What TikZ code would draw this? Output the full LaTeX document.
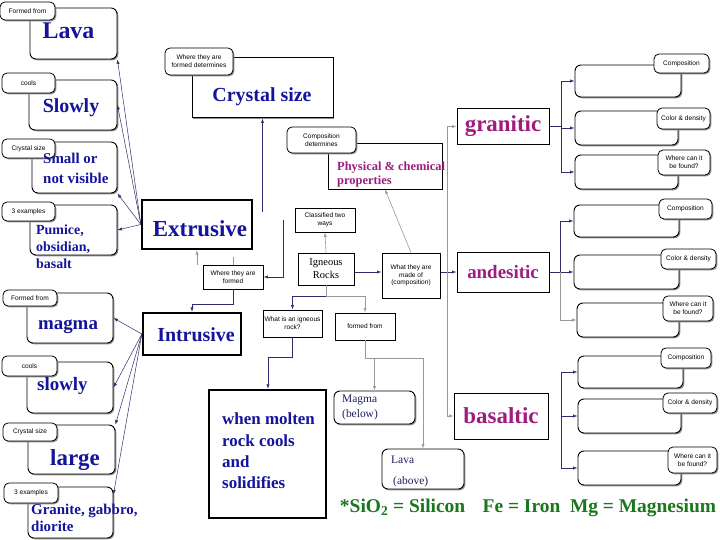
\documentclass[tikz,border=0pt]{standalone}
\usepackage{fontspec}
\setmainfont{Liberation Serif}
\newfontfamily\tagfont{Liberation Sans}
\usetikzlibrary{arrows.meta,shadows}

\definecolor{blueT}{RGB}{20,20,155}
\definecolor{purpleT}{RGB}{158,28,128}
\definecolor{greenT}{RGB}{28,118,28}
\definecolor{navyT}{RGB}{30,30,95}
\definecolor{linec}{RGB}{45,45,110}

\tikzset{
  dims/.style 2 args={minimum width=#1bp, minimum height=#2bp},
  shadowed/.style={drop shadow={shadow xshift=1.3pt, shadow yshift=-1.3pt, fill=black!45, opacity=1}},
  rbox/.style={draw, line width=0.9pt, rounded corners=6pt, fill=white, inner sep=0pt, shadowed},
  sbox/.style={draw, line width=1pt, fill=white, inner sep=0pt, shadowed},
  thickbox/.style={draw, line width=2.3pt, fill=white, inner sep=0pt},
  tag/.style={rbox, line width=0.8pt, rounded corners=5pt, font=\tagfont\fontsize{6.6}{7.8}\selectfont, align=center},
  minitxt/.style={font=\tagfont\fontsize{6.6}{7.8}\selectfont, align=center},
  bluetxt/.style={anchor=base, inner sep=0pt, text=blueT, font=\bfseries\fontsize{#1}{#1}\selectfont},
  purpletxt/.style={text=purpleT, font=\bfseries\fontsize{#1}{#1}\selectfont},
  conn/.style={draw=linec, line width=0.6pt},
  gconn/.style={draw=black!40, line width=0.6pt},
}

\begin{document}
\begin{tikzpicture}[x=1bp, y=-1bp, >={Latex[length=4.5pt,width=3.2pt]}]
  \fill[white] (0,0) rectangle (720,540);
  \useasboundingbox (0,0) rectangle (720,540);

  % left column: extrusive side
  \node[rbox, dims={87}{51}] (lava) at (73.5,33.5) {};
  \node[rbox, dims={88}{50}] (slowlyA) at (73,105) {};
  \node[rbox, dims={85}{51}] (small) at (74.5,167.5) {};
  \node[rbox, dims={87}{50}] (pumice) at (73.5,230) {};
  % left column: intrusive side
  \node[rbox, dims={86}{50}] (magma) at (70,318) {};
  \node[rbox, dims={86}{51}] (slowlyB) at (70,387.5) {};
  \node[rbox, dims={87}{49}] (large) at (71.5,449.5) {};
  \node[rbox, dims={85}{51}] (granite) at (70.5,512.5) {};

  \node[tag, dims={55}{18}] (tlava) at (27.5,11) {Formed from};
  \node[tag, dims={53}{20}] (tslowlyA) at (28.5,83) {cools};
  \node[tag, dims={53}{19}] (tsmall) at (28.5,148.5) {Crystal size};
  \node[tag, dims={53}{19}] (tpumice) at (28.5,211.5) {3 examples};
  \node[tag, dims={54}{16}] (tmagma) at (30,298) {Formed from};
  \node[tag, dims={55}{20}] (tslowlyB) at (29.5,366) {cools};
  \node[tag, dims={54}{18}] (tlarge) at (30,432) {Crystal size};
  \node[tag, dims={54}{20}] (tgranite) at (31,493) {3 examples};

  \node[bluetxt=24] (lavatxt) at (68.5,39) {Lava};
  \node[bluetxt=20] (slowlyAtxt) at (71,113) {Slowly};
  \node[anchor=west, inner sep=0pt, align=left, text=blueT, font=\bfseries\fontsize{15}{20}\selectfont] (smalltxt) at (43,168) {Small or\\not visible};
  \node[anchor=west, inner sep=0pt, align=left, text=blueT, font=\bfseries\fontsize{14}{17}\selectfont] (pumicetxt) at (36,247) {Pumice,\\obsidian,\\basalt};
  \node[bluetxt=19] (magmatxt) at (68,329) {magma};
  \node[bluetxt=19, anchor=base west] (slowlyBtxt) at (37,390) {slowly};
  \node[bluetxt=23] (largetxt) at (75,465) {large};
  \node[anchor=west, inner sep=0pt, align=left, text=blueT, font=\bfseries\fontsize{15}{17.5}\selectfont] (granitetxt) at (31,518) {Granite, gabbro,\\diorite};

  % centre
  \node[sbox, dims={141}{60}] (crystal) at (262.5,88) {};
  \node[bluetxt=20] (crystaltxt) at (262,102) {Crystal size};
  \node[tag, dims={68}{27}] (tcrystal) at (199,61.5) {Where they are\\formed determines};
  \node[thickbox, dims={110}{49}] (extrusive) at (197,224.5) {};
  \node[bluetxt=23] (extrusivetxt) at (200,237) {Extrusive};
  \node[thickbox, dims={98}{42}] (intrusive) at (192,334) {};
  \node[bluetxt=20] (intrusivetxt) at (196,341) {Intrusive};
  \node[sbox, dims={60}{24}, minitxt] (where) at (233,277) {Where they are\\formed};
  \node[sbox, dims={60}{24}, minitxt] (classified) at (325,220) {Classified two\\ways};
  \node[sbox, dims={56}{32}, align=center, font=\fontsize{10.5}{13}\selectfont] (igneous) at (326,269) {Igneous\\Rocks};
  \node[sbox, dims={58}{45}, minitxt] (made) at (411,275.5) {What they are\\made of\\(composition)};
  \node[sbox, dims={114}{45}] (physical) at (385,166.5) {};
  \node[tag, dims={69}{26}] (tphysical) at (321.5,140) {Composition\\determines};
  \node[anchor=west, inner sep=0pt, align=left, text=purpleT, font=\bfseries\fontsize{12.5}{15}\selectfont] (physicaltxt) at (337,174.5) {Physical \& chemical\\properties};
  \node[sbox, dims={59}{27}, minitxt] (whatis) at (292.5,323.5) {What is an igneous\\rock?};
  \node[sbox, dims={60}{27}, minitxt] (formedfrom) at (365,326.5) {formed from};
  \node[thickbox, dims={117}{128}] (molten) at (267.5,454) {};
  \node[anchor=west, inner sep=0pt, align=left, text=blueT, font=\bfseries\fontsize{17}{21.5}\selectfont] (moltentxt) at (222,451) {when molten\\rock cools\\and\\solidifies};
  \node[rbox, dims={81}{33}] (magmabelow) at (374.5,407.5) {};
  \node[anchor=west, inner sep=0pt, align=left, text=navyT, font=\fontsize{11.5}{15}\selectfont] (magmabelowtxt) at (342,407.5) {Magma\\(below)};
  \node[rbox, dims={82}{40}] (lavaabove) at (423,469) {};
  \node[anchor=west, inner sep=0pt, align=left, text=navyT, font=\fontsize{11.5}{21}\selectfont] (lavaabovetxt) at (391,471.5) {Lava\\\hspace{2bp}(above)};

  % composition classes
  \node[sbox, dims={92}{35}, purpletxt=23] (granitic) at (503,126.5) {granitic};
  \node[sbox, dims={92}{40}, purpletxt=19] (andesitic) at (503,272) {andesitic};
  \node[sbox, dims={94}{46}, purpletxt=23] (basaltic) at (501,416) {basaltic};

  % right column
  \node[rbox, dims={106}{32}] (g1) at (628,81) {};
  \node[rbox, dims={103}{34}] (g2) at (626.5,128) {};
  \node[rbox, dims={103}{34}] (g3) at (626.5,172) {};
  \node[rbox, dims={105}{32}] (a1) at (626.5,221) {};
  \node[rbox, dims={105}{34}] (a2) at (626.5,272) {};
  \node[rbox, dims={102}{34}] (a3) at (628,320) {};
  \node[rbox, dims={105}{32}] (b1) at (630.5,372) {};
  \node[rbox, dims={103}{34}] (b2) at (629.5,416) {};
  \node[rbox, dims={103}{34}] (b3) at (629.5,468) {};
  \node[tag, dims={55}{19}] (tg1) at (681.5,63.5) {Composition};
  \node[tag, dims={53}{21}] (tg2) at (683.5,118.5) {Color \& density};
  \node[tag, dims={52}{25}] (tg3) at (684,162.5) {Where can it\\be found?};
  \node[tag, dims={53}{20}] (ta1) at (685.5,209) {Composition};
  \node[tag, dims={55}{20}] (ta2) at (688.5,259) {Color \& density};
  \node[tag, dims={50}{25}] (ta3) at (688,308.5) {Where can it\\be found?};
  \node[tag, dims={50}{20}] (tb1) at (686,358) {Composition};
  \node[tag, dims={54}{20}] (tb2) at (690,403) {Color \& density};
  \node[tag, dims={49}{26}] (tb3) at (692.5,460) {Where can it\\be found?};

  \node[text=greenT, font=\bfseries\fontsize{19.5}{20}\selectfont] (elements) at (528,508)
    {*SiO\textsubscript{2} = Silicon\hspace{0.9em}Fe = Iron\hspace{0.5em}Mg = Magnesium};

  % connectors
  \foreach \b in {lava.south east, slowlyA.east, small.south east, pumice.east}
    \draw[conn, line width=0.5pt, ->] (extrusive.west) -- (\b);
  \draw[conn, line width=0.5pt, ->] (intrusive.west) -- (magma.east);
  \draw[conn, line width=0.5pt, ->] (intrusive.west) -- (slowlyB.east);
  \draw[conn, line width=0.5pt, ->] (intrusive.west) -- (large.north east);
  \draw[conn, line width=0.5pt, ->] (intrusive.west) -- ([yshift=-8bp]granite.north east);

  \coordinate (cs) at (262.5,212);
  \coordinate (wq) at (283,220);
  \draw[conn, ->] (cs) -- (crystal.south);
  \draw[conn, ->] (wq) |- (where.east);
  \draw[gconn, ->] (extrusive.south |- where.north) -- (extrusive.south);
  \draw[gconn] (where.north) -- ++(0,-8);
  \draw[conn, ->] (where.south) -- ++(0,15) -| (intrusive.north);

  \draw[gconn, ->] (igneous.north) -- (classified.south);
  \draw[gconn] (igneous.south) -- ++(0,11) coordinate (ij);
  \draw[conn, ->] (ij) -| (whatis.north);
  \draw[gconn, ->] (ij) -| (formedfrom.north);
  \draw[conn, ->] (whatis.south) -- ++(0,20) -| ([xshift=0.5bp]molten.north);
  \draw[gconn] (formedfrom.south) -- ++(0,18) coordinate (fj);
  \draw[gconn, ->] (fj) -| (magmabelow.north);
  \draw[gconn, ->] (fj) -| (lavaabove.north);

  \coordinate (tj) at (447,272);
  \draw[conn, ->] (igneous.east |- tj) -- (made.west |- tj);
  \draw[gconn, ->] (made.north) -- (physical.south);
  \draw[conn, ->] (made.east |- tj) -- (andesitic.west);
  \draw[gconn, ->] (tj) |- (granitic.west);
  \draw[gconn, ->] (tj) |- (basaltic.west);

  \coordinate (gj) at (561,126.5);
  \draw[conn] (granitic.east) -- (gj);
  \draw[conn, ->] (gj) |- (g1.west);
  \draw[conn, ->] (gj) |- (g2.west);
  \draw[conn, ->] (gj) |- (g3.west);
  \coordinate (aj) at (560,272);
  \draw[conn] (andesitic.east) -- (aj);
  \draw[conn, ->] (aj) |- (a1.west);
  \draw[conn, ->] (aj) -- (a2.west);
  \draw[gconn, ->] (aj) |- (a3.west);
  \coordinate (bj) at (561,416);
  \draw[conn, ->] (bj) |- (b1.west);
  \draw[conn, ->] (bj) -- (b2.west);
  \draw[conn, ->] (bj) |- (b3.west);
\end{tikzpicture}
\end{document}
